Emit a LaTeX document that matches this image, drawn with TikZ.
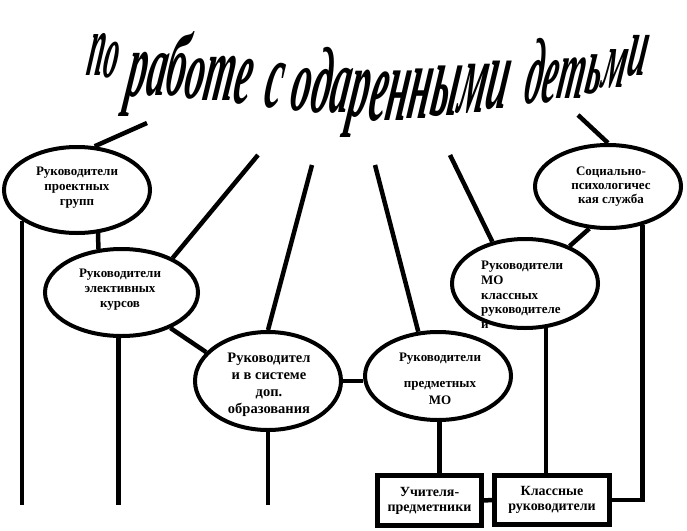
\documentclass[tikz,border=0pt]{standalone}
\usepackage{fontspec}
\setmainfont{Liberation Serif}
\usetikzlibrary{shapes.geometric}
\newcommand{\Lt}[3]{\raisebox{#1pt}{\scalebox{1}[#2]{#3}}}
\begin{document}
\begin{tikzpicture}[x=1pt,y=-1pt,
  oval/.style={ellipse, draw, line width=4pt, inner sep=0pt},
  ovaltext/.style={inner sep=0pt, align=center, font=\fontsize{13}{15}\selectfont\bfseries},
  rectbox/.style={draw, line width=4.5pt, inner sep=0pt, align=center, font=\fontsize{14}{15}\selectfont\bfseries},
  link/.style={line width=4.5pt},
  titleword/.style={anchor=base west, inner sep=0pt, xslant=0.17, transform shape,
    font=\fontsize{94}{94}\selectfont\bfseries\itshape}]
\useasboundingbox (0,0) rectangle (687,530);

% title, word by word along the arch
\node[titleword, xscale=0.31] (w1) at (85,76)
  {\Lt{1}{0.95}{п}\Lt{-1}{0.8}{о}};
\node[titleword, xscale=0.415] (w2) at (124,98)
  {\Lt{2}{1.0}{р}\Lt{3}{0.95}{а}\Lt{3}{0.95}{б}\Lt{0}{0.9}{о}\Lt{-2}{1.0}{т}\Lt{-5}{1.0}{е}};
\node[titleword, xscale=0.42] (w3) at (262,107)
  {\Lt{0}{1.0}{с}};
\node[titleword, xscale=0.42] (w4) at (288,115)
  {\Lt{5}{0.95}{о}\Lt{3}{1.0}{д}\Lt{3}{1.0}{а}\Lt{-1}{1.05}{р}\Lt{-5}{1.1}{е}\Lt{-5}{1.15}{н}\Lt{-3}{1.15}{н}\Lt{0}{1.15}{ы}\Lt{3}{1.12}{м}\Lt{7}{1.1}{и}};
\node[titleword, xscale=0.365] (w5) at (524,95)
  {\Lt{-8}{1.0}{д}\Lt{-7}{0.95}{е}\Lt{-3}{0.92}{т}\Lt{2}{0.9}{ь}\Lt{8}{0.88}{м}\Lt{20}{0.93}{и}};

% texts of the ovals
\node[ovaltext] (t1) at (77,188) {Руководители\\проектных\\групп};
\node[ovaltext] (t2) at (120,290) {Руководители\\элективных\\курсов};
\node[ovaltext, font=\fontsize{14.5}{17}\selectfont\bfseries] (t3) at (269,385) {Руководител\\и в системе\\доп.\\образования};
\node[ovaltext, font=\fontsize{13}{17}\selectfont\bfseries] (t4) at (440,379) {Руководители\\[9pt]предметных\\МО};
\node[ovaltext, align=left, anchor=west, font=\fontsize{13}{14.7}\selectfont\bfseries] (t5) at (481,295) {Руководители\\МО\\классных\\руководителе\\й};
\node[ovaltext, font=\fontsize{13}{14}\selectfont\bfseries] (t6) at (611,187) {Социально-\\психологичес\\кая служба};

% ovals
\node[oval, minimum width=146pt, minimum height=86pt] (e1) at (77,190) {};
\node[oval, minimum width=153pt, minimum height=87pt] (e2) at (121.5,292.5) {};
\node[oval, minimum width=146pt, minimum height=98pt] (e3) at (268,381) {};
\node[oval, minimum width=146pt, minimum height=88pt] (e4) at (438,376) {};
\node[oval, minimum width=146pt, minimum height=89pt] (e5) at (525,283.5) {};
\node[oval, minimum width=146pt, minimum height=83pt] (e6) at (608,186.5) {};

% boxes
\node[rectbox, minimum width=104pt, minimum height=50pt] (r1) at (429.5,500.5) {Учителя-\\предметники};
\node[rectbox, minimum width=115pt, minimum height=49pt] (r2) at (552,500) {Классные\\руководители};

% free ends
\coordinate (f1) at (147,123);
\coordinate (f2) at (258,155);
\coordinate (f3) at (312,165);
\coordinate (f4) at (375,165);
\coordinate (f5) at (450,155);
\coordinate (f6) at (578,115);
\coordinate (bot) at (0,505);

% connectors from the title
\draw[link] (f1) -- (e1.68);
\draw[link] (f2) -- (e2.34);
\draw[link] (f3) -- (e3.north);
\draw[link] (f4) -- (e4.114);
\draw[link] (f5) -- (e5.128);
\draw[link] (f6) -- (e6.north);

% connectors between ovals
\draw[link] (e1.-64) -- (e2.118);
\draw[link] (e2.-36) -- (e3.155);
\draw[link] (e3.east) -- (e3.east -| e4.west);
\draw[link] (e5.40) -- (e6.246);

% verticals
\draw[link] (e1.209) -- (e1.209 |- bot);
\draw[link] (e2.-94) -- (e2.-94 |- bot);
\draw[link] (e3.south) -- (e3.south |- bot);
\draw[link] (e4.-88) -- (e4.-88 |- r1.north);
\draw[link] (e5.-65) -- (e5.-65 |- r2.north);
\draw[link] (e6.-48) |- (r2.east);
\draw[link] (r1.east) -- (r2.west);
\end{tikzpicture}
\end{document}
